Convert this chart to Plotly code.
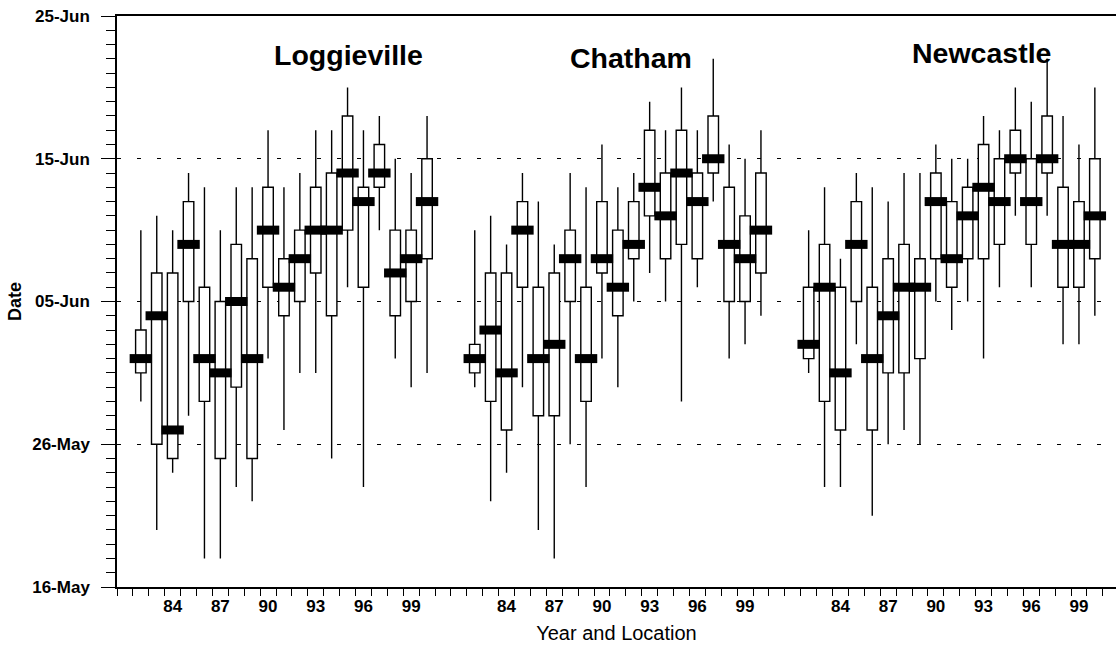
import plotly.graph_objects as go

years = ["82","83","84","85","86","87","88","89","90","91","92","93","94","95","96","97","98","99","00"]
locations = ["Loggieville", "Chatham", "Newcastle"]
group_start = [1, 22, 43]

# values are days after 16-May
logg_lo  = [13, 4, 8, 12, 2, 2, 7, 6, 16, 11, 15, 15, 9, 21, 7, 25, 16, 14, 15]
logg_q1  = [15, 10, 9, 20, 13, 9, 14, 9, 21, 19, 20, 22, 19, 25, 21, 28, 19, 20, 23]
logg_med = [16, 19, 11, 24, 16, 15, 20, 16, 25, 21, 23, 25, 25, 29, 27, 29, 22, 23, 27]
logg_q3  = [18, 22, 22, 27, 21, 20, 24, 23, 28, 23, 25, 28, 29, 33, 28, 31, 25, 25, 30]
logg_hi  = [25, 26, 25, 29, 28, 25, 28, 28, 32, 28, 29, 32, 32, 35, 32, 33, 30, 29, 33]

chat_lo  = [14, 6, 8, 14, 4, 2, 10, 7, 16, 14, 20, 22, 20, 13, 21, 27, 16, 17, 19]
chat_q1  = [15, 13, 11, 21, 12, 12, 20, 13, 22, 19, 23, 26, 23, 24, 23, 29, 20, 20, 22]
chat_med = [16, 18, 15, 25, 16, 17, 23, 16, 23, 21, 24, 28, 26, 29, 27, 30, 24, 23, 25]
chat_q3  = [17, 22, 22, 27, 21, 22, 25, 21, 27, 25, 27, 32, 29, 32, 29, 33, 28, 26, 29]
chat_hi  = [25, 26, 24, 29, 27, 24, 29, 28, 31, 28, 29, 34, 32, 35, 32, 37, 31, 30, 32]

newc_lo  = [15, 7, 7, 17, 5, 10, 11, 10, 20, 18, 20, 16, 21, 26, 21, 26, 17, 17, 19]
newc_q1  = [16, 13, 11, 20, 11, 15, 15, 16, 23, 21, 23, 23, 24, 29, 24, 29, 21, 21, 23]
newc_med = [17, 21, 15, 24, 16, 19, 21, 21, 27, 23, 26, 28, 27, 30, 27, 30, 24, 24, 26]
newc_q3  = [21, 24, 21, 27, 21, 23, 24, 23, 29, 27, 28, 31, 30, 32, 30, 33, 28, 27, 30]
newc_hi  = [25, 28, 23, 29, 28, 27, 29, 29, 31, 30, 30, 33, 32, 35, 34, 37, 33, 31, 35]

label_years = ["84", "87", "90", "93", "96", "99"]
y_tick_days = [0, 10, 20, 30, 40]
y_tick_text = ["16-May", "26-May", "05-Jun", "15-Jun", "25-Jun"]

series = [
    (logg_lo, logg_q1, logg_med, logg_q3, logg_hi),
    (chat_lo, chat_q1, chat_med, chat_q3, chat_hi),
    (newc_lo, newc_q1, newc_med, newc_q3, newc_hi),
]

fig = go.Figure()
tickvals, ticktext = [], []
for name, start, (lo, q1, med, q3, hi) in zip(locations, group_start, series):
    xs = [start + i for i in range(len(years))]
    fig.add_trace(go.Box(
        x=xs, lowerfence=lo, q1=q1, median=med, q3=q3, upperfence=hi,
        width=0.66, fillcolor="white", line=dict(color="black", width=1.4),
        whiskerwidth=0, boxpoints=False, name=name, showlegend=False,
        hoverinfo="skip",
    ))
    fig.add_trace(go.Scatter(
        x=xs, y=med, mode="markers", showlegend=False, hoverinfo="skip",
        marker=dict(symbol="line-ew", size=16, color="black",
                    line=dict(color="black", width=9)),
    ))
    for i, yr in enumerate(years):
        if yr in label_years:
            tickvals.append(start + i)
            ticktext.append(yr)

title_pos = [(14.05, 37.3), (31.85, 37.05), (53.9, 37.4)]
for name, (tx, ty) in zip(locations, title_pos):
    fig.add_annotation(x=tx, y=ty, text="<b>%s</b>" % name, showarrow=False,
                       font=dict(family="Arial", size=28.5, color="black"),
                       xanchor="center", yanchor="middle")

fig.update_layout(
    width=1116, height=647,
    margin=dict(l=117, r=0, t=16, b=60),
    plot_bgcolor="white", paper_bgcolor="white",
    font=dict(family="Arial", color="black"),
    xaxis=dict(
        range=[-0.5, 62.33], showgrid=False, zeroline=False,
        showline=True, linecolor="black", linewidth=1.5, mirror=True,
        tickmode="array", tickvals=tickvals, ticktext=ticktext,
        ticks="", ticklabelstandoff=3,
        tickfont=dict(family="Arial", size=17, color="black", weight="bold"),
        minor=dict(ticks="outside", ticklen=7, tickwidth=1, tickcolor="black",
                   tick0=0.5, dtick=1, showgrid=False),
        title=dict(text="Year and Location", standoff=11,
                   font=dict(family="Arial", size=20, color="black")),
    ),
    yaxis=dict(
        range=[0, 40], zeroline=False,
        showline=True, linecolor="black", linewidth=1.5,
        tickmode="array", tickvals=y_tick_days, ticktext=y_tick_text,
        ticks="outside", ticklen=14, tickwidth=1, tickcolor="black",
        ticklabelstandoff=8,
        tickfont=dict(family="Arial", size=17, color="black", weight="bold"),
        showgrid=True, gridcolor="black", gridwidth=1, griddash="4px,16px",
        minor=dict(ticks="outside", ticklen=9, tickwidth=1, tickcolor="black",
                   dtick=1, showgrid=False),
        title=dict(text="<b>Date</b>", standoff=6,
                   font=dict(family="Arial", size=18, color="black")),
    ),
)

fig.write_html("out.html")
